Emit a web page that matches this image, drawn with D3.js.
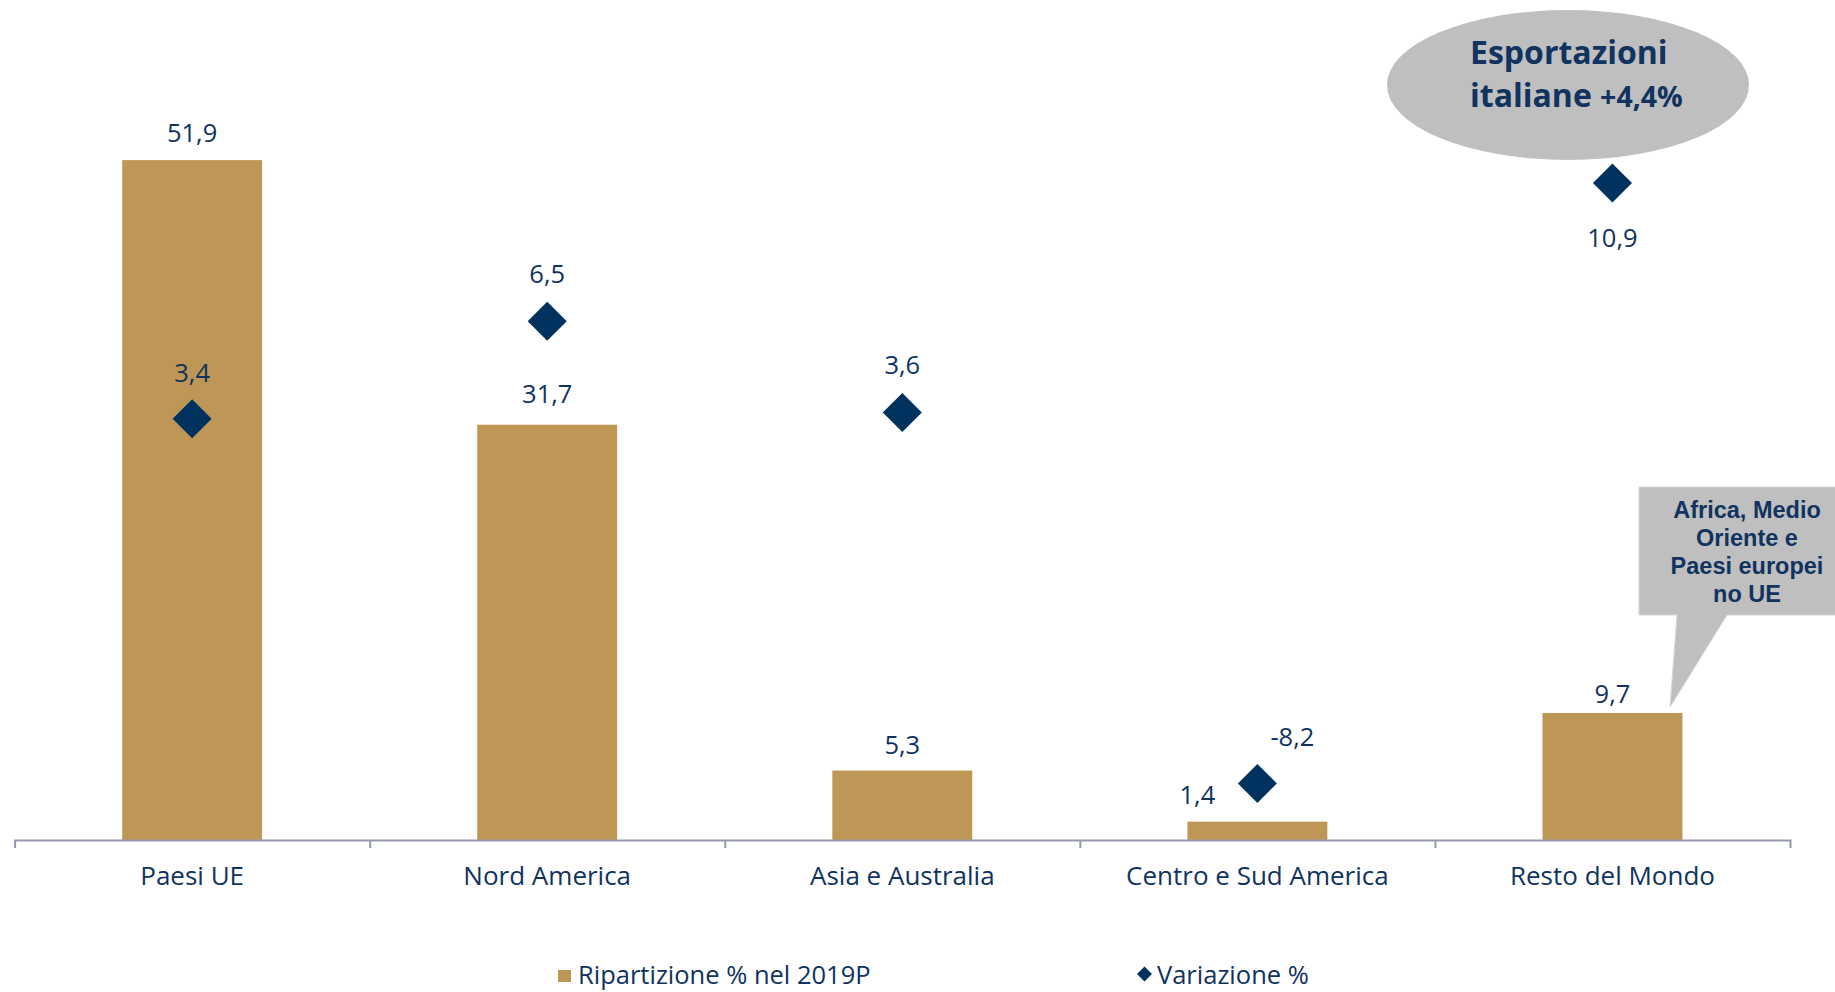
<!DOCTYPE html>
<html lang="it">
<head>
<meta charset="utf-8">
<title>Esportazioni italiane per area</title>
<script src="https://cdn.jsdelivr.net/npm/d3@7/dist/d3.min.js"></script>
<style>
  html, body { margin: 0; padding: 0; background: #ffffff; }
  svg { display: block; }
  text { font-family: "Open Sans", "DejaVu Sans", sans-serif; }
</style>
</head>
<body>
<svg id="chart" width="1835" height="992"></svg>
<script>
// Aree di destinazione
const categories = ["Paesi UE", "Nord America", "Asia e Australia", "Centro e Sud America", "Resto del Mondo"];
// Ripartizione % delle esportazioni nel 2019P (barre, asse principale)
const shareValues = [51.9, 31.7, 5.3, 1.4, 9.7];
// Variazione % (rombi, asse secondario)
const changeValues = [3.4, 6.5, 3.6, -8.2, 10.9];
// Testi di legenda e annotazioni
const legendLabels = ["Ripartizione % nel 2019P", "Variazione %"];
const totalLabelLines = ["Esportazioni", "italiane "];
const totalChangeLabel = "+4,4%";
const calloutLines = ["Africa, Medio", "Oriente e", "Paesi europei", "no UE"];

// Spostamenti manuali delle etichette dati [dx, dy]
const shareLabelNudge = [[0, -18], [0, -22], [0, -17], [-60, -18], [0, -10]];
const changeLabelNudge = [[0, -37], [0, -38], [0, -38], [35, -37], [0, 64]];

const NAVY = "#10335f";
const MARK = "#00325f";
const GOLD = "#be9655";
const AXIS = "#9599ae";
const GREY = "#bfbfbf";

// Numeri all'italiana: virgola decimale e trattino per il segno meno
const fmt = v => d3.format(".1f")(v).replace(".", ",").replace("\u2212", "-");

const svg = d3.select("#chart");

const plot = { left: 14.6, right: 1790, top: 54, bottom: 840 };

const x = d3.scaleBand()
  .domain(categories)
  .range([plot.left, plot.right])
  .paddingInner(0.606)
  .paddingOuter(0.303);

const y = d3.scaleLinear().domain([0, 60]).range([plot.bottom, plot.top]);
const y2 = d3.scaleLinear().domain([-10, 15]).range([plot.bottom, plot.top]);

const cx = d => x(d) + x.bandwidth() / 2;

// Barre: ripartizione %
svg.append("g")
  .selectAll("rect")
  .data(categories)
  .join("rect")
  .attr("x", d => x(d))
  .attr("width", x.bandwidth())
  .attr("y", (d, i) => y(shareValues[i]))
  .attr("height", (d, i) => y(0) - y(shareValues[i]))
  .attr("fill", GOLD);

// Asse delle categorie: linea di base con tacche tra le aree
const boundary = d3.scaleLinear().domain([0, categories.length]).range([plot.left, plot.right]);
const axisG = svg.append("g")
  .attr("transform", `translate(0,${plot.bottom})`)
  .call(d3.axisBottom(boundary).tickValues(d3.range(1, categories.length)).tickFormat("").tickSizeInner(8).tickSizeOuter(8));
axisG.selectAll("path, line").attr("stroke", AXIS).attr("stroke-width", 2);

const labelAxis = svg.append("g")
  .attr("transform", `translate(0,${plot.bottom})`)
  .call(d3.axisBottom(x).tickSize(0));
labelAxis.select(".domain").remove();
labelAxis.selectAll("text")
  .attr("y", 45)
  .attr("dy", null)
  .attr("fill", NAVY)
  .style("font-family", "'Open Sans', sans-serif")
  .style("font-size", "26px");

// Etichette delle barre
svg.append("g")
  .selectAll("text")
  .data(categories)
  .join("text")
  .attr("x", (d, i) => cx(d) + shareLabelNudge[i][0])
  .attr("y", (d, i) => y(shareValues[i]) + shareLabelNudge[i][1])
  .attr("text-anchor", "middle")
  .attr("fill", NAVY)
  .style("font-size", "25.5px")
  .text((d, i) => fmt(shareValues[i]));

// Rombi: variazione %
const diamond = d3.symbol(d3.symbolSquare, 762);
svg.append("g")
  .selectAll("path")
  .data(categories)
  .join("path")
  .attr("d", diamond)
  .attr("transform", (d, i) => `translate(${cx(d)},${y2(changeValues[i])}) rotate(45)`)
  .attr("fill", MARK);

svg.append("g")
  .selectAll("text")
  .data(categories)
  .join("text")
  .attr("x", (d, i) => cx(d) + changeLabelNudge[i][0])
  .attr("y", (d, i) => y2(changeValues[i]) + changeLabelNudge[i][1])
  .attr("text-anchor", "middle")
  .attr("fill", NAVY)
  .style("font-size", "25.5px")
  .text((d, i) => fmt(changeValues[i]));

// Fumetto ellittico con la variazione complessiva
const bubble = svg.append("g");
bubble.append("ellipse")
  .attr("cx", 1568).attr("cy", 85)
  .attr("rx", 181).attr("ry", 75)
  .attr("fill", GREY);
const bubbleText = bubble.append("text")
  .attr("fill", NAVY)
  .style("font-weight", 700)
  .style("font-size", "32px");
bubbleText.append("tspan").attr("x", 1470).attr("y", 64).text(totalLabelLines[0]);
bubbleText.append("tspan").attr("x", 1470).attr("y", 107).text(totalLabelLines[1]);
bubbleText.append("tspan").style("font-size", "28.5px").text(totalChangeLabel);

// Nota sul Resto del Mondo
const note = svg.append("g");
note.append("path")
  .attr("d", d3.line()([[1639, 487], [1836, 487], [1836, 615], [1727, 615], [1670, 707], [1677, 615], [1639, 615]]) + "Z")
  .attr("fill", GREY)
  .attr("stroke", "#d6d6d6")
  .attr("stroke-width", 1);
note.append("g")
  .selectAll("text")
  .data(calloutLines)
  .join("text")
  .attr("x", 1747)
  .attr("y", (d, i) => 518 + i * 28)
  .attr("fill", NAVY)
  .attr("text-anchor", "middle")
  .style("font-family", "'Liberation Sans', Arial, sans-serif")
  .style("font-weight", 700)
  .style("font-size", "23.5px")
  .text(d => d);

// Legenda
const legend = svg.append("g");
legend.append("rect")
  .attr("x", 558).attr("y", 970)
  .attr("width", 13).attr("height", 12)
  .attr("fill", GOLD);
legend.append("text")
  .attr("x", 578).attr("y", 984)
  .attr("fill", NAVY)
  .style("font-size", "25.5px")
  .text(legendLabels[0]);
legend.append("path")
  .attr("d", d3.symbol(d3.symbolSquare, 112))
  .attr("transform", "translate(1144.5,974) rotate(45)")
  .attr("fill", MARK);
legend.append("text")
  .attr("x", 1157).attr("y", 984)
  .attr("fill", NAVY)
  .style("font-size", "25.5px")
  .text(legendLabels[1]);
</script>
</body>
</html>
